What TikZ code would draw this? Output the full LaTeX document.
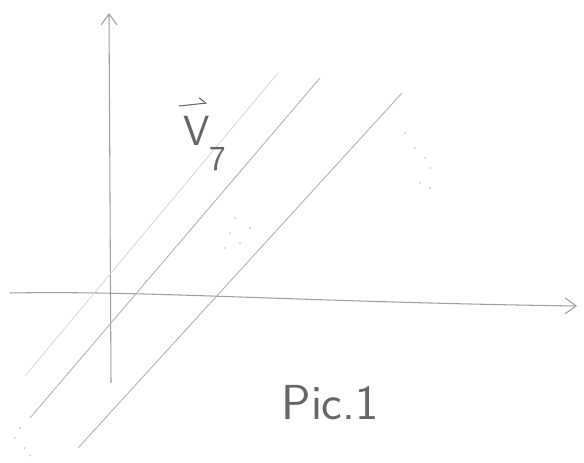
\documentclass[tikz,border=0pt]{standalone}
\usepackage{tikz}
\usetikzlibrary{arrows.meta}

\begin{document}
\begin{tikzpicture}[
    sumbu/.style={draw=gray!75, line width=0.6pt, -{Straight Barb[length=2.2mm, width=3.2mm]}},
    garis/.style={draw=gray!60, line width=0.5pt},
    garispudar/.style={draw=gray!30, line width=0.5pt},
    noda/.style={fill=gray!35},
    tulisan/.style={text=gray!80!black, font=\sffamily}
  ]
    \useasboundingbox (0,0) rectangle (11.68,9.26);

    % sumbu koordinat
    \coordinate (ybawah) at (2.22,1.60);
    \coordinate (yatas) at (2.18,9.00);
    \coordinate (xkiri) at (0.20,3.40);
    \coordinate (xkanan) at (11.54,3.14);
    \draw[sumbu] (ybawah) -- (yatas);
    \draw[sumbu] (xkiri) .. controls (3.0,3.45) and (6.0,3.22) .. (xkanan);

    % garis sejajar
    \coordinate (a1) at (0.50,1.74);
    \coordinate (a2) at (5.56,7.80);
    \coordinate (b1) at (0.60,0.90);
    \coordinate (b2) at (6.40,7.70);
    \coordinate (c1) at (1.56,0.30);
    \coordinate (c2) at (8.04,7.40);
    \draw[garispudar] (a1) -- (a2);
    \draw[garis] (b1) -- (b2);
    \draw[garis] (c1) -- (c2);

    % label
    \node[tulisan, font=\fontsize{24}{28}\selectfont\sffamily, inner sep=1pt, anchor=north west] (vektor) at (3.62,6.98)
      {V\raisebox{-0.6em}{\fontsize{20}{24}\selectfont 7}};
    \draw[draw=gray!80!black, line width=0.6pt, -{Straight Barb[left, length=1.2mm]}]
      ([shift={(-0.04,0.16)}]vektor.north west) -- ([shift={(0.52,0.22)}]vektor.north west);
    \node[tulisan, font=\fontsize{28}{34}\selectfont\sffamily] (judul) at (6.6,1.2) {Pic.1};

    % noda pensil
    \foreach \p in {(4.6,4.6),(4.8,4.4),(4.5,4.3),(5.0,4.7),(4.7,4.9),
                    (8.3,6.3),(8.5,6.1),(8.6,5.9),(8.4,5.6),(8.6,5.5),(8.1,6.6),
                    (0.3,0.5),(0.5,0.3),(0.4,0.7),(0.6,0.15)}
      \fill[noda] \p circle (0.6pt);
\end{tikzpicture}
\end{document}
